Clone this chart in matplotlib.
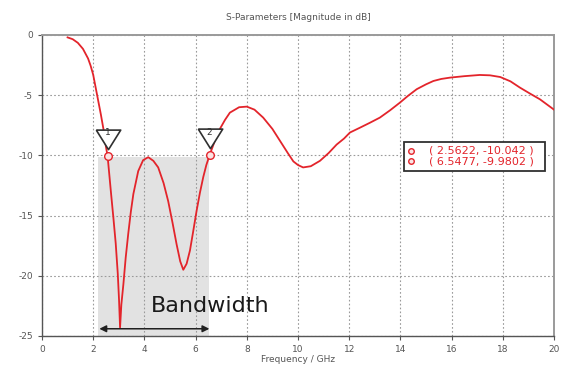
import matplotlib
matplotlib.use("Agg")
import matplotlib.pyplot as plt
from matplotlib.patches import Rectangle

plt.rcParams['axes.unicode_minus'] = False
plt.rcParams['font.family'] = 'DejaVu Sans'

# S11 magnitude read from the simulation sweep
freq = [1.0, 1.2, 1.4, 1.6, 1.8, 1.9, 2.0, 2.1, 2.2, 2.3, 2.4, 2.5, 2.5622,
        2.7, 2.79, 2.88, 2.96, 3.01, 3.05, 3.1, 3.18, 3.27, 3.37, 3.47, 3.57,
        3.76, 3.95, 4.15, 4.35, 4.54, 4.75, 4.93, 5.1, 5.26, 5.4, 5.52, 5.65,
        5.78, 5.9, 6.04, 6.17, 6.3, 6.42, 6.5477, 6.75, 6.95, 7.15, 7.34, 7.7,
        8.0, 8.3, 8.64, 9.0, 9.3, 9.6, 9.82, 10.0, 10.2, 10.5, 10.86, 11.2,
        11.51, 11.8, 12.03, 12.42, 12.8, 13.2, 13.6, 13.98, 14.3, 14.64, 15.0,
        15.29, 15.6, 15.94, 16.5, 17.1, 17.5, 17.9, 18.3, 18.67, 19.05, 19.45,
        20.0]
s11 = [-0.2, -0.35, -0.65, -1.15, -1.95, -2.55, -3.3, -4.4, -5.5, -6.6,
       -7.8, -9.3, -10.042,
       -13.2, -15.2, -17.3, -19.8, -22.0, -24.3, -22.4, -20.7, -18.5, -16.5,
       -14.7, -13.2, -11.3, -10.4, -10.15, -10.45, -11.0, -12.3, -13.8, -15.6,
       -17.4, -18.8, -19.5, -19.0, -17.9, -16.4, -14.6, -13.1, -11.8, -10.8,
       -9.9802, -8.8, -7.8, -7.05, -6.45, -6.0,
       -5.95, -6.2, -6.86, -7.8, -8.8, -9.8, -10.5, -10.8, -11.0, -10.9,
       -10.45, -9.8, -9.1, -8.6, -8.1, -7.7, -7.3, -6.86, -6.25, -5.62, -5.05,
       -4.5, -4.1, -3.82, -3.65, -3.54, -3.42, -3.32, -3.35, -3.49, -3.85,
       -4.37, -4.85, -5.34, -6.2]

marker_f = [2.5622, 6.5477]
marker_db = [-10.042, -9.9802]
marker_id = ['1', '2']

band_lo, band_hi = 2.17, 6.54
xticks = list(range(0, 21, 2))
yticks = [0, -5, -10, -15, -20, -25]

fig = plt.figure(figsize=(5.65, 3.66), dpi=100)
ax = fig.add_axes([0.0743, 0.0820, 0.9062, 0.8224])

# shaded bandwidth region below -10 dB
ax.fill_between([band_lo, band_hi], -25, -10.1, color='#e2e2e2', zorder=0.2,
                linewidth=0)

ax.plot(freq, s11, color='#e3242b', lw=1.3, zorder=3)

# marker flags: inverted triangle sitting above each point
flag = [(-1.25, 2.7), (1.25, 2.7), (0, 0.7), (-1.25, 2.7)]
for f, d, n in zip(marker_f, marker_db, marker_id):
    ax.plot(f, d, marker='o', ms=5.5, mfc='#fbe3e3', mec='#e3242b', mew=1.0,
            zorder=4)
    ax.plot(f, d, marker=flag, ms=38, mfc='white', mec='#303030', mew=1.2,
            zorder=5, clip_on=False)
    ax.annotate(n, (f, d), xytext=(0, 16.5), textcoords='offset points',
                ha='center', va='center', fontsize=6.5, color='#303030',
                zorder=6)

ax.annotate('', xy=(2.24, -24.4), xytext=(band_hi, -24.4),
            arrowprops=dict(arrowstyle='<|-|>', color='#202020', lw=1.1,
                            mutation_scale=10, shrinkA=0, shrinkB=0),
            zorder=4)
ax.text(6.56, -22.5, 'Bandwidth', ha='center', va='center', fontsize=16,
        color='#1a1a1a', zorder=4)

# marker readout box
ax.add_patch(Rectangle((14.14, -11.3), 5.51, 2.4, fc='white', ec='#303030',
                       lw=1.3, zorder=6))
rows = ['( %.4f, %.3f )' % (marker_f[0], marker_db[0]),
        '( %.4f, %.4f )' % (marker_f[1], marker_db[1])]
for yy, row in zip([-9.6, -10.5], rows):
    ax.plot(14.42, yy, marker='o', ms=4, mfc='#fbe3e3', mec='#e3242b',
            mew=1.0, zorder=7)
    ax.text(15.1, yy, row, ha='left', va='center', fontsize=8,
            color='#e3242b', zorder=7)

ax.set_xlim(0, 20)
ax.set_ylim(-25, 0)
ax.set_xticks(xticks)
ax.set_yticks(yticks)
ax.grid(True, color='#9a9a9a', linestyle=(0, (1.5, 2)), linewidth=0.8)
ax.set_axisbelow(True)
ax.tick_params(labelsize=6.5, colors='#555555', length=3, width=0.8)
for s in ['left', 'bottom']:
    ax.spines[s].set_color('#555555')
    ax.spines[s].set_linewidth(1.0)
for s in ['top', 'right']:
    ax.spines[s].set_color('#9a9a9a')
    ax.spines[s].set_linewidth(1.4)

ax.set_title('S-Parameters [Magnitude in dB]', fontsize=6.5, color='#555555',
             pad=11)
ax.set_xlabel('Frequency / GHz', fontsize=6.5, color='#555555', labelpad=1)

fig.savefig('out.png', dpi=100)
